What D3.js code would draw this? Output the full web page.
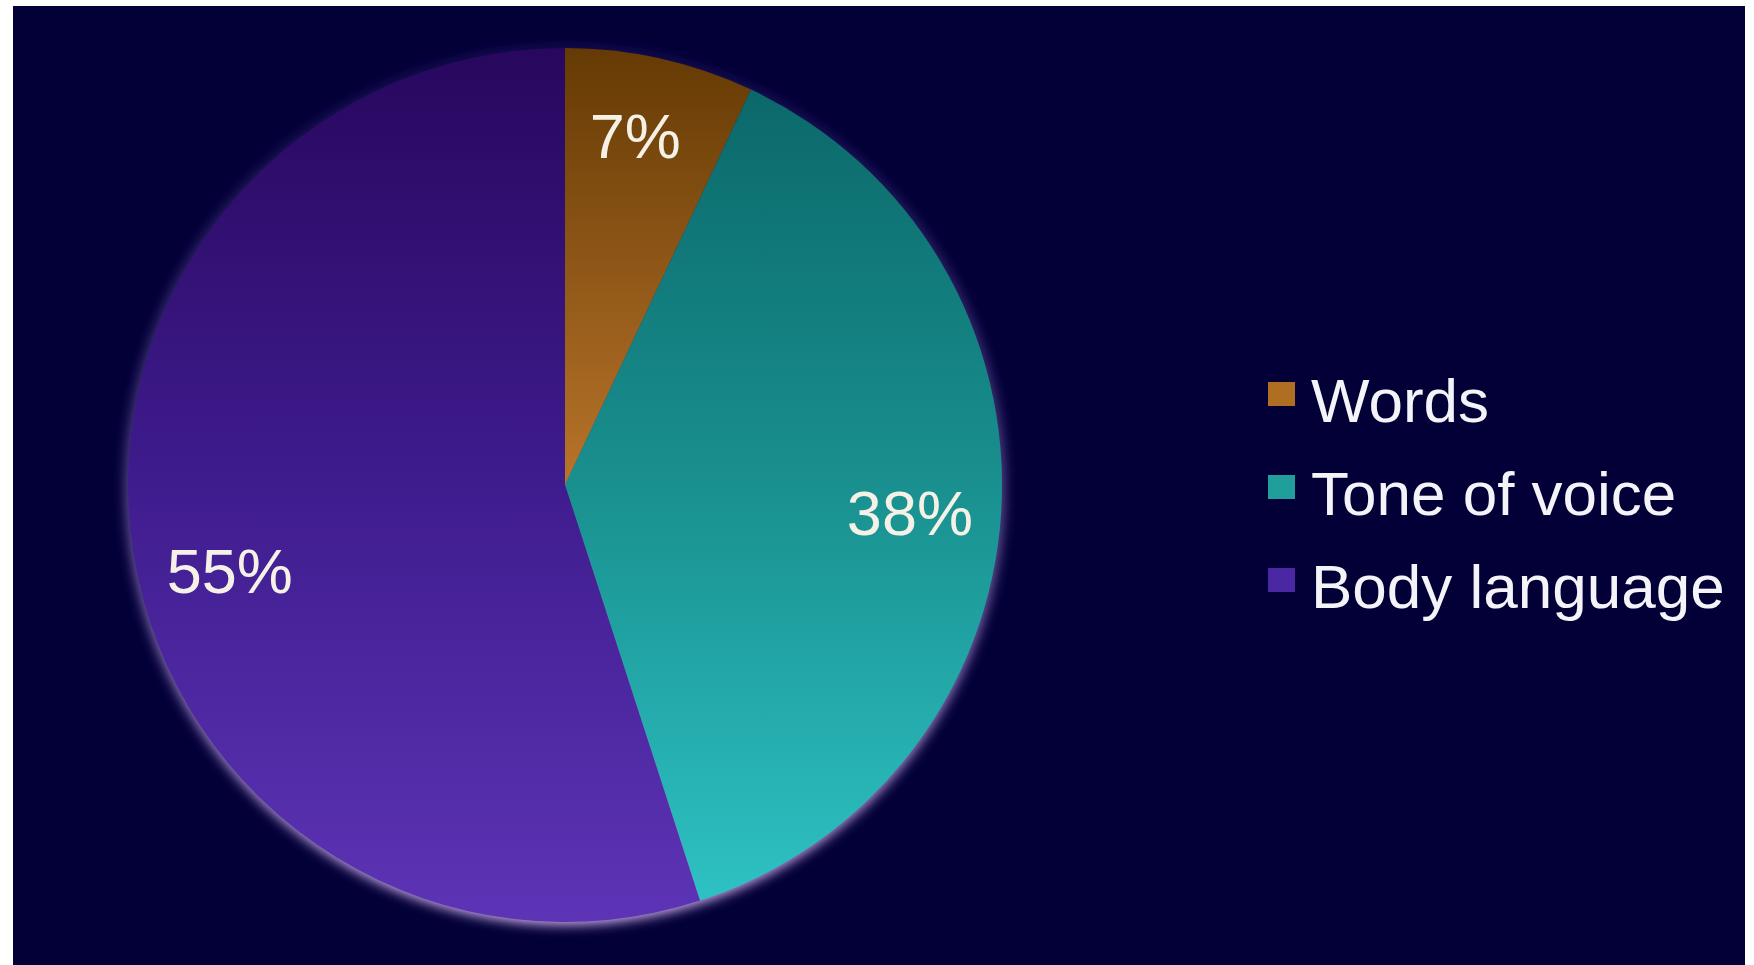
<!DOCTYPE html>
<html>
<head>
<meta charset="utf-8">
<script src="https://cdn.jsdelivr.net/npm/d3@7"></script>
<style>
  html, body { margin: 0; padding: 0; background: #ffffff; }
  svg { display: block; }
</style>
</head>
<body>
<div id="chart"></div>
<script>
// data
const categories = ["Words", "Tone of voice", "Body language"];
const values = [7, 38, 55];
const labels = ["7%", "38%", "55%"];
// gradient colours per slice, top -> middle -> bottom of the pie
const sliceColors = [
    ["#653a04", "#b8742a", "#e2a050"],
    ["#0a6466", "#19908f", "#2fc4c6"],
    ["#28075e", "#3f1c8e", "#5d34b6"]
];
const legendColors = ["#b06e22", "#1f9e9c", "#4a28a4"];

const width = 1754, height = 965;
const cx = 565, cy = 485, radius = 437;
// small hand nudges so the labels sit where the original put them
const labelShift = [[-6, -9], [-4, 5], [10, 31]];

const svg = d3.select("#chart")
    .append("svg")
    .attr("width", width)
    .attr("height", height);

// dark background panel
svg.append("rect")
    .attr("x", 13).attr("y", 6)
    .attr("width", 1732).attr("height", height - 6)
    .attr("fill", "#030038");

const defs = svg.append("defs");

// gradients live in the pie group's space (centre at 0,0)
sliceColors.forEach((cols, i) => {
    const grad = defs.append("linearGradient")
        .attr("id", "slice" + i)
        .attr("gradientUnits", "userSpaceOnUse")
        .attr("x1", 0).attr("y1", -radius)
        .attr("x2", 0).attr("y2", radius);
    grad.append("stop").attr("offset", 0).attr("stop-color", cols[0]);
    grad.append("stop").attr("offset", 0.5).attr("stop-color", cols[1]);
    grad.append("stop").attr("offset", 1).attr("stop-color", cols[2]);
});

// soft glow round the pie, stronger at the bottom
const glowGrad = defs.append("linearGradient")
    .attr("id", "glowGrad")
    .attr("gradientUnits", "userSpaceOnUse")
    .attr("x1", 0).attr("y1", -radius)
    .attr("x2", 0).attr("y2", radius);
glowGrad.append("stop").attr("offset", 0).attr("stop-color", "#3a2a80").attr("stop-opacity", 0.3);
glowGrad.append("stop").attr("offset", 1).attr("stop-color", "#d0b0ee").attr("stop-opacity", 1);

defs.append("filter")
    .attr("id", "blur")
    .attr("x", "-20%").attr("y", "-20%")
    .attr("width", "140%").attr("height", "140%")
    .append("feGaussianBlur")
    .attr("stdDeviation", 6);

const g = svg.append("g")
    .attr("transform", `translate(${cx},${cy})`);

g.append("circle")
    .attr("r", radius + 3)
    .attr("fill", "url(#glowGrad)")
    .attr("filter", "url(#blur)");

const pie = d3.pie().sort(null).value(d => d);
const arcs = pie(values);

const arc = d3.arc().innerRadius(0).outerRadius(radius);
const labelArc = d3.arc().innerRadius(radius * 0.8).outerRadius(radius * 0.8);

g.selectAll("path.slice")
    .data(arcs)
    .join("path")
    .attr("class", "slice")
    .attr("d", arc)
    .attr("fill", (d, i) => `url(#slice${i})`);

g.selectAll("text.pct")
    .data(arcs)
    .join("text")
    .attr("class", "pct")
    .attr("transform", (d, i) => {
        const [x, y] = labelArc.centroid(d);
        return `translate(${x + labelShift[i][0]},${y + labelShift[i][1]})`;
    })
    .attr("dy", "0.36em")
    .attr("text-anchor", "middle")
    .attr("fill", "#f6f1e6")
    .style("font-family", "'Liberation Sans', Arial, Helvetica, sans-serif")
    .style("font-size", "63px")
    .text((d, i) => labels[i]);

// legend
const legend = svg.append("g")
    .attr("transform", "translate(1268,422)");

const item = legend.selectAll("g")
    .data(categories)
    .join("g")
    .attr("transform", (d, i) => `translate(0,${i * 93})`);

item.append("rect")
    .attr("x", 0).attr("y", -40)
    .attr("width", 27).attr("height", 24)
    .attr("fill", (d, i) => legendColors[i]);

item.append("text")
    .attr("x", 43).attr("y", 0)
    .attr("fill", "#f4f4f8")
    .style("font-family", "'Liberation Sans', Arial, Helvetica, sans-serif")
    .style("font-size", "62px")
    .text(d => d);
</script>
</body>
</html>
